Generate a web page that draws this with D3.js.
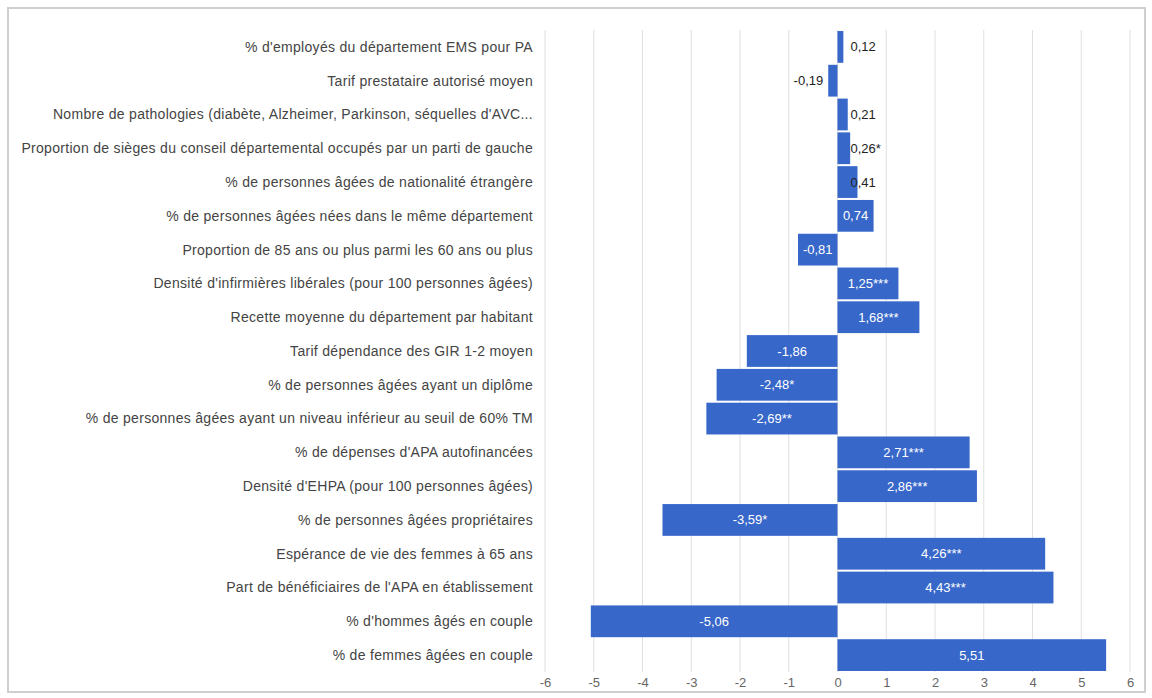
<!DOCTYPE html>
<html><head><meta charset="utf-8">
<script src="https://cdn.jsdelivr.net/npm/d3@7"></script>
<style>body{margin:0;background:#fff;} svg{display:block;}</style>
</head><body>
<script>
const categories = [
  "% d'employés du département EMS pour PA",
  "Tarif prestataire autorisé moyen",
  "Nombre de pathologies (diabète, Alzheimer, Parkinson, séquelles d'AVC...",
  "Proportion de sièges du conseil départemental occupés par un parti de gauche",
  "% de personnes âgées de nationalité étrangère",
  "% de personnes âgées nées dans le même département",
  "Proportion de 85 ans ou plus parmi les 60 ans ou plus",
  "Densité d'infirmières libérales (pour 100 personnes âgées)",
  "Recette moyenne du département par habitant",
  "Tarif dépendance des GIR 1-2 moyen",
  "% de personnes âgées ayant un diplôme",
  "% de personnes âgées ayant un niveau inférieur au seuil de 60% TM",
  "% de dépenses d'APA autofinancées",
  "Densité d'EHPA (pour 100 personnes âgées)",
  "% de personnes âgées propriétaires",
  "Espérance de vie des femmes à 65 ans",
  "Part de bénéficiaires de l'APA en établissement",
  "% d'hommes âgés en couple",
  "% de femmes âgées en couple"
];
const values = [0.12, -0.19, 0.21, 0.26, 0.41, 0.74, -0.81, 1.25, 1.68, -1.86, -2.48, -2.69, 2.71, 2.86, -3.59, 4.26, 4.43, -5.06, 5.51];
const valueLabels = ["0,12", "-0,19", "0,21", "0,26*", "0,41", "0,74", "-0,81", "1,25***", "1,68***", "-1,86", "-2,48*", "-2,69**", "2,71***", "2,86***", "-3,59*", "4,26***", "4,43***", "-5,06", "5,51"];
const xTicks = [-6, -5, -4, -3, -2, -1, 0, 1, 2, 3, 4, 5, 6];

(function () {
const W = 1152, H = 698;
const mLeft = 545, mRight = 1130, mTop = 30, mBottom = 672;
const FONT = "Liberation Sans, Arial, sans-serif";
const svg = d3.select("body").append("svg").attr("width", W).attr("height", H);

// frame
svg.append("rect").attr("x", 8).attr("y", 8).attr("width", 1137).attr("height", 684)
  .attr("fill", "#fff").attr("stroke", "#cfcfcf").attr("stroke-width", 2);

const x = d3.scaleLinear().domain([-6, 6]).range([mLeft, mRight]);
const y = d3.scaleBand().domain(categories).range([mTop, mBottom]).paddingInner(0.06).paddingOuter(0.03);

// gridlines
svg.append("g").selectAll("line").data(xTicks).join("line")
  .attr("x1", d => x(d)).attr("x2", d => x(d))
  .attr("y1", mTop).attr("y2", mBottom)
  .attr("stroke", "#e0e0e0").attr("stroke-width", 1);

// bars
const data = categories.map((c, i) => ({c, v: values[i], l: valueLabels[i]}));
svg.append("g").selectAll("rect").data(data).join("rect")
  .attr("x", d => x(Math.min(0, d.v)))
  .attr("width", d => Math.abs(x(d.v) - x(0)))
  .attr("y", d => y(d.c))
  .attr("height", y.bandwidth())
  .attr("fill", "#3767c9");

// value labels
svg.append("g").selectAll("text").data(data).join("text")
  .attr("x", d => {
    if (Math.abs(d.v) < 0.5) return d.v > 0 ? x(0) + 13 : x(d.v) - 5;
    return (x(d.v) + x(0)) / 2;
  })
  .attr("y", d => y(d.c) + y.bandwidth() / 2)
  .attr("dy", "0.35em")
  .attr("text-anchor", d => Math.abs(d.v) < 0.5 ? (d.v > 0 ? "start" : "end") : "middle")
  .attr("fill", d => Math.abs(d.v) < 0.5 ? "#222" : "#fff")
  .attr("font-family", FONT)
  .attr("font-size", 13)
  .text(d => d.l);

// category labels
svg.append("g").selectAll("text").data(categories).join("text")
  .attr("x", 533)
  .attr("y", d => y(d) + y.bandwidth() / 2)
  .attr("dy", "0.35em")
  .attr("text-anchor", "end")
  .attr("fill", "#444")
  .attr("font-family", FONT)
  .attr("font-size", 14)
  .attr("letter-spacing", 0.3)
  .text(d => d);

// x axis
const ax = svg.append("g").attr("transform", `translate(0,${mBottom})`)
  .call(d3.axisBottom(x).tickValues(xTicks).tickSize(0).tickPadding(6).tickFormat(d => String(d)));
ax.select(".domain").remove();
ax.selectAll("text").attr("fill", "#666").attr("font-family", FONT).attr("font-size", 13);
})();
</script>
</body></html>
